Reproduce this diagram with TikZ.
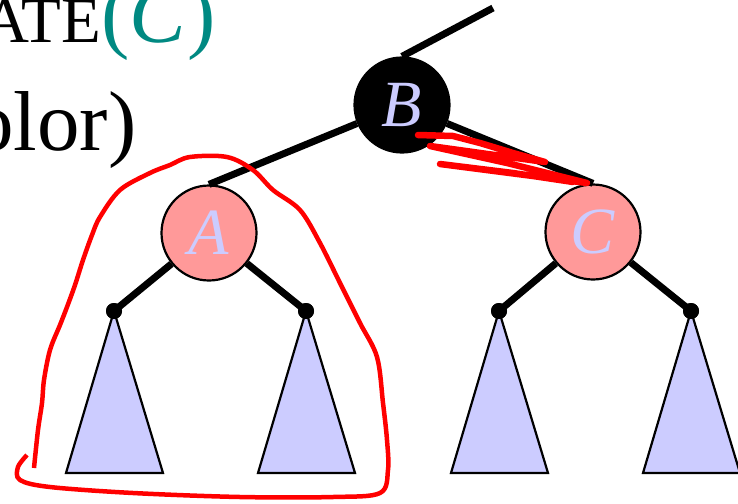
\documentclass[tikz,border=0pt]{standalone}
\usepackage{fontspec}
\setmainfont{Liberation Serif}
\definecolor{pinkfill}{RGB}{255,153,153}
\definecolor{lav}{RGB}{204,204,255}
\definecolor{tealc}{RGB}{0,137,130}
\begin{document}
\begin{tikzpicture}[x=1pt,y=-1pt,
  rbnode/.style={circle,draw=black,line width=2.2pt,minimum size=95pt,inner sep=0pt,font=\fontsize{66}{66}\selectfont\itshape,text=lav},
  rednode/.style={rbnode,fill=pinkfill},
  blacknode/.style={rbnode,fill=black},
  edge/.style={line width=7pt},
  dotnode/.style={circle,fill=black,minimum size=16pt,inner sep=0pt},
  subtree/.style={fill=lav,draw=black,line width=2.2pt,line join=miter},
  scribble/.style={red,line width=6.5pt,line cap=round,line join=round}]
\useasboundingbox (0,0) rectangle (738,503);
\clip (0,0) rectangle (738,503);

% text
\node[anchor=base west,inner sep=0pt] (t1) at (-18,43)
  {\fontsize{85}{85}\selectfont{\fontsize{65}{65}\selectfont ATE}\textcolor{tealc}{(\textit{C})}};
\node[anchor=base west,inner sep=0pt] (t2) at (-29,150)
  {\fontsize{85}{85}\selectfont olor)};

% nodes
\node[blacknode] (B) at (402,105) {B};
\node[rednode] (A) at (209,233) {A};
\node[rednode] (C) at (593,232) {C};
\coordinate (top) at (493,8);

\node[dotnode] (d1) at (114,311) {};
\node[dotnode] (d2) at (306,311) {};
\node[dotnode] (d3) at (499,311) {};
\node[dotnode] (d4) at (691,311) {};

% subtrees
\draw[subtree] (d1.center) -- ++(-48,162) -- ++(97,0) -- cycle;
\draw[subtree] (d2.center) -- ++(-48,162) -- ++(97,0) -- cycle;
\draw[subtree] (d3.center) -- ++(-48,162) -- ++(97,0) -- cycle;
\draw[subtree] (d4.center) -- ++(-48,162) -- ++(97,0) -- cycle;
\node[dotnode] at (d1) {};
\node[dotnode] at (d2) {};
\node[dotnode] at (d3) {};
\node[dotnode] at (d4) {};

% edges
\draw[edge] (B.north) -- (top);
\draw[edge] (A.north) -- (B);
\draw[edge] (C.north) -- (B);
\draw[edge] (A) -- (d1.center);
\draw[edge] (A) -- (d2.center);
\draw[edge] (C) -- (d3.center);
\draw[edge] (C) -- (d4.center);

% red annotations
\draw[red,line width=4.5pt,line join=round] plot[smooth,tension=0.55] coordinates {
  (34,468) (38,430) (42,403) (44,380) (50,350) (60,325) (67,307) (75,285) (83,260) (92,235) (100,217) (120,190)
  (150,173) (170,165) (190,157) (227,157) (253,170) (273,190) (300,210) (320,243)
  (340,283) (360,323) (377,357) (383,403) (387,440) (388,470) (380,493)
  (333,497) (240,497) (133,493) (50,487) (20,480) (18,467) (27,455)};
\draw[scribble] (418,135) -- (453,136) -- (480,143) -- (513,153) -- (545,162)
  -- (430,146) -- (507,163) -- (587,183) -- (440,164) -- (513,173) -- (573,182);
\end{tikzpicture}
\end{document}
